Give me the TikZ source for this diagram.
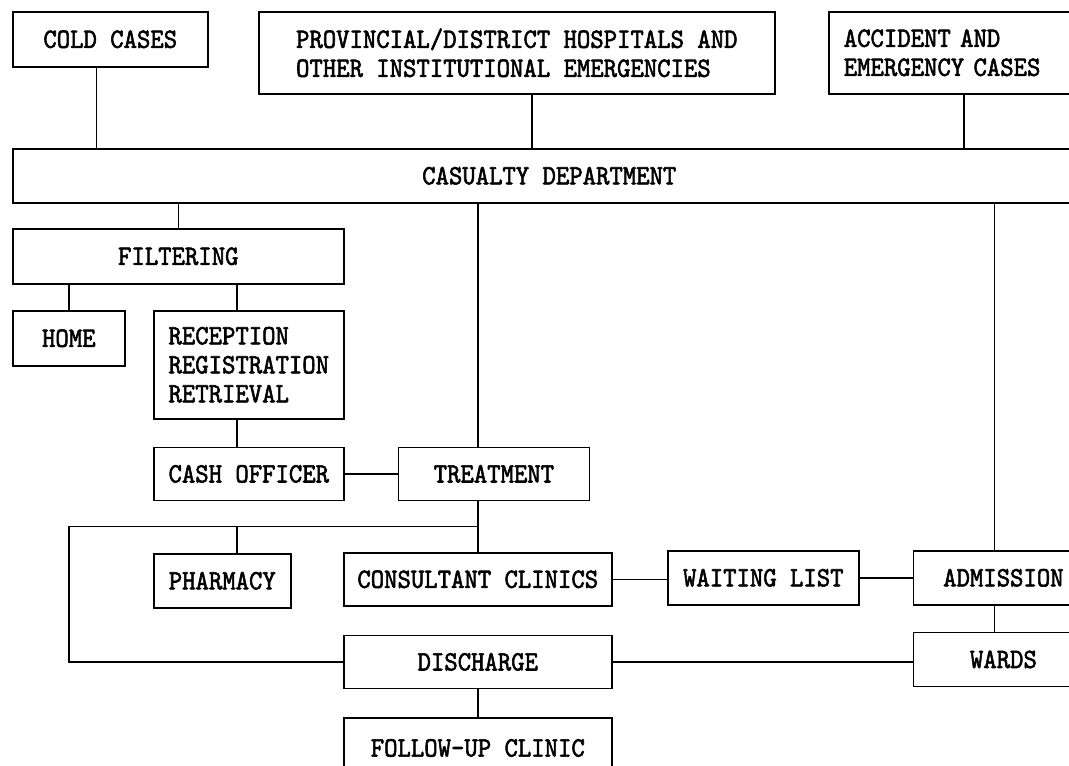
\documentclass[tikz,border=0pt]{standalone}
\usepackage{fontspec}
\newfontfamily\unitfont{lmmono10-regular}[Extension=.otf, FakeStretch=0.91, FakeBold=2]
\usetikzlibrary{positioning, calc}
\tikzset{
  unit/.style={rectangle, draw=black, line width=1.6pt, inner sep=0pt,
    minimum height=54pt, align=left,
    font=\unitfont\fontsize{28pt}{29pt}\selectfont},
  link/.style={line width=1.6pt, color=black},
}

\begin{document}
\begin{tikzpicture}[x=1pt, y=-1pt]
  \useasboundingbox (0,0) rectangle (1069,766);
  \clip (0,0) rectangle (1069,766);

  \node[unit, anchor=north west, minimum width=195pt, minimum height=55pt] (cold)
    at (12,11) {COLD CASES};
  \node[unit, anchor=north west, minimum width=516pt, minimum height=82pt] (prov)
    at (258,11) {PROVINCIAL/DISTRICT HOSPITALS AND\\OTHER INSTITUTIONAL EMERGENCIES};
  \node[unit, anchor=north west, text width=232pt, inner xsep=15pt, minimum height=82pt] (acc)
    at (828,11) {ACCIDENT AND\\EMERGENCY CASES};
  \node[unit, anchor=north west, minimum width=1073pt] (cas)
    at (12,148) {CASUALTY DEPARTMENT};

  \node[unit, anchor=north west, minimum width=331pt, minimum height=55pt] (filt)
    at (12,228) {FILTERING};
  \node[unit, anchor=north west, minimum width=112pt, minimum height=55pt] (home)
    at (12,310) {HOME};
  \node[unit, anchor=north west, minimum width=190pt, minimum height=108pt] (recep)
    at (153,310) {RECEPTION\\REGISTRATION\\RETRIEVAL};
  \node[unit, minimum width=190pt, minimum height=53pt, below=27pt of recep] (cash)
    {CASH OFFICER};
  \node[unit, minimum width=191pt, minimum height=53pt, right=53pt of cash] (treat)
    {TREATMENT};

  \node[unit, anchor=north west, minimum width=137pt] (pharm)
    at (153,553) {PHARMACY};
  \node[unit, anchor=north west, minimum width=268pt, minimum height=53pt] (consult)
    at (343,552) {CONSULTANT CLINICS};
  \node[unit, anchor=north west, minimum width=191pt] (wait)
    at (667,550) {WAITING LIST};
  \node[unit, minimum width=180pt, right=53pt of wait] (admit)
    {ADMISSION};
  \node[unit, minimum width=180pt, below=26pt of admit] (wards)
    {WARDS};
  \node[unit, minimum width=268pt, minimum height=53pt, below=28pt of consult] (disch)
    {DISCHARGE};
  \node[unit, minimum width=268pt, minimum height=60pt, below=28pt of disch] (follow)
    {FOLLOW-UP CLINIC};

  \coordinate (cl) at ([xshift=-14pt]cold.south);
  \coordinate (pl) at ([xshift=15pt]prov.south);
  \coordinate (al) at ([xshift=4pt]acc.south);
  \coordinate (rl) at ([xshift=-12pt]recep.south);
  \coordinate (ad) at ([xshift=-9pt]admit.north);
  \coordinate (bus) at ($(treat.south -| consult.north)!0.5!(consult.north)$);

  \draw[link] (cl) -- (cl |- cas.north);
  \draw[link] (pl) -- (pl |- cas.north);
  \draw[link] (al) -- (al |- cas.north);
  \draw[link] (filt.north) -- (filt.north |- cas.south);
  \draw[link] (consult.north |- cas.south) -- (consult.north |- treat.north);
  \draw[link] (ad |- cas.south) -- (ad);
  \draw[link] (home.north) -- (home.north |- filt.south);
  \draw[link] (rl |- filt.south) -- (rl |- recep.north);
  \draw[link] (rl) -- (rl |- cash.north);
  \draw[link] (cash) -- (treat);
  \draw[link] (consult.north |- treat.south) -- (consult.north);
  \draw[link] (bus) -- (bus -| home.north) |- (disch.west);
  \draw[link] (rl |- bus) -- (rl |- pharm.north);
  \draw[link] (consult.east) -- (consult.east -| wait.west);
  \draw[link] (wait) -- (admit);
  \draw[link] (ad |- admit.south) -- (ad |- wards.north);
  \draw[link] (disch.east) -- (disch.east -| wards.west);
  \draw[link] (disch.south) -- (follow.north);
\end{tikzpicture}
\end{document}
